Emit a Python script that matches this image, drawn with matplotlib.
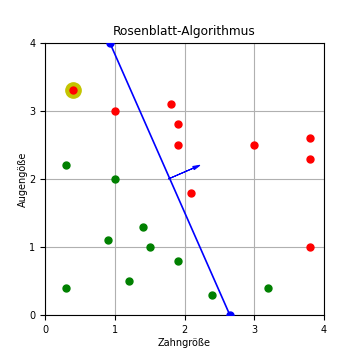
import numpy as np
import matplotlib
matplotlib.use('Agg')
import matplotlib.pyplot as plt

rot_x = [0.4, 1.0, 1.8, 1.9, 1.9, 2.1, 3.0, 3.8, 3.8, 3.8]
rot_y = [3.3, 3.0, 3.1, 2.8, 2.5, 1.8, 2.5, 2.6, 2.3, 1.0]
gruen_x = [0.3, 1.0, 0.9, 1.4, 1.5, 1.2, 0.3, 1.9, 2.4, 3.2]
gruen_y = [2.2, 2.0, 1.1, 1.3, 1.0, 0.5, 0.4, 0.8, 0.3, 0.4]
markiert = (0.4, 3.3)
linie_x = [0.93, 2.65]
linie_y = [4.0, 0.0]
pfeil_start = (1.77, 2.0)
pfeil_delta = (0.45, 0.2)

plt.rcParams['font.size'] = 7
fig = plt.figure(figsize=(3.6, 3.6), dpi=100)
ax = fig.add_axes([0.125, 0.125, 0.775, 0.756])

ax.grid(True, color='#b0b0b0', lw=0.8, zorder=0)
ax.plot(markiert[0], markiert[1], 'o', color='#c4c400', markersize=11, zorder=3)
ax.plot(rot_x, rot_y, 'o', color='red', markersize=5, zorder=4)
ax.plot(gruen_x, gruen_y, 'o', color='green', markersize=5, zorder=4)
ax.plot(linie_x, linie_y, 'o-', color='blue', lw=1.2, markersize=5, zorder=5)
ax.arrow(pfeil_start[0], pfeil_start[1], pfeil_delta[0], pfeil_delta[1],
         color='blue', lw=0.8, head_width=0.05, head_length=0.1,
         length_includes_head=True, zorder=5)

ax.set_xlim(0, 4)
ax.set_ylim(0, 4)
ax.set_xticks([0, 1, 2, 3, 4])
ax.set_yticks([0, 1, 2, 3, 4])
ax.set_title('Rosenblatt-Algorithmus', fontsize=8.7)
ax.set_xlabel('Zahngröße', labelpad=2)
ax.set_ylabel('Augengöße', labelpad=1)
plt.savefig('out.png', dpi=100)
